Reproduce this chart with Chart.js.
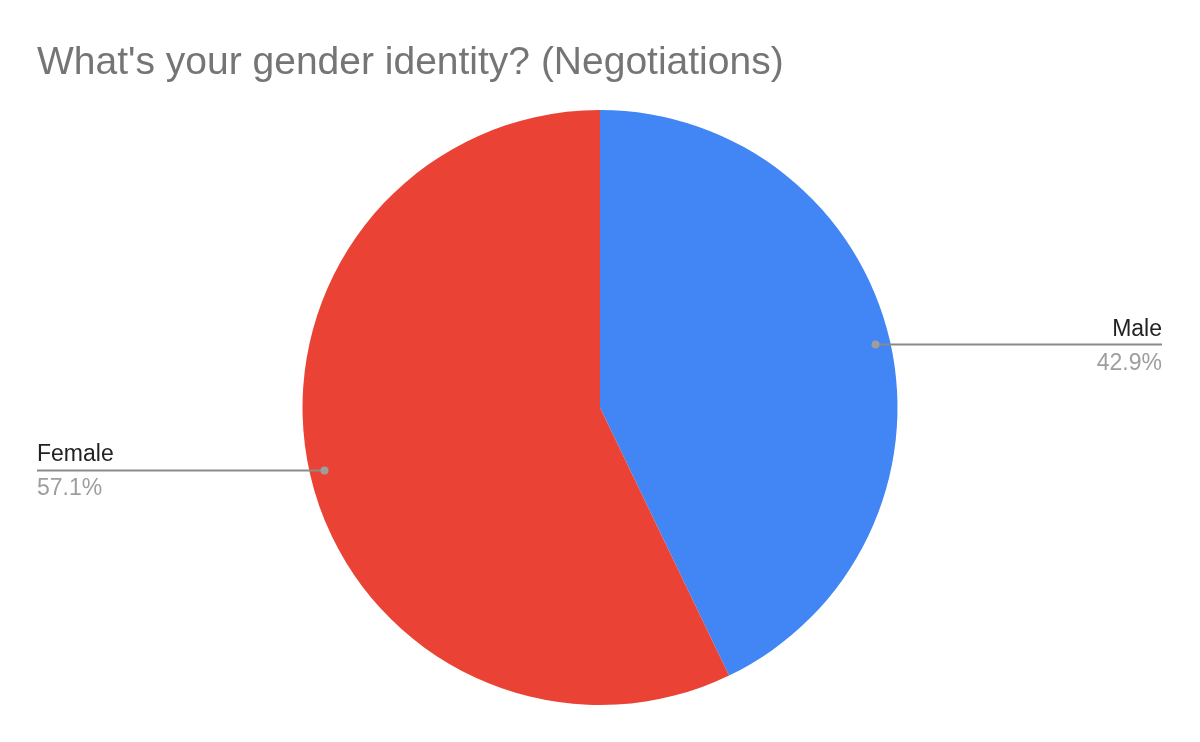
<!DOCTYPE html>
<html>
<head>
<meta charset="utf-8">
<script src="https://cdn.jsdelivr.net/npm/chart.js@4/dist/chart.umd.min.js"></script>
<style>
  html, body { margin: 0; padding: 0; background: #fff; }
  #chart { display: block; }
</style>
</head>
<body>
<canvas id="chart" width="1200" height="742"></canvas>
<script>
// datos del gráfico
var titleText = "What's your gender identity? (Negotiations)";
var categories = ["Male", "Female"];
var values = [3, 4];
var sliceColors = ["#4285f4", "#ea4335"];

var FONT = "'Liberation Sans', Arial, sans-serif";

// etiquetas con línea guía, estilo Google Sheets
var labelsPlugin = {
    id: "leaderLabels",
    afterDraw: function(chart) {
        var ctx = chart.ctx;
        var meta = chart.getDatasetMeta(0);
        var total = values.reduce(function(a, b) { return a + b; }, 0);

        // título
        ctx.save();
        ctx.font = "39px " + FONT;
        ctx.fillStyle = "#757575";
        ctx.textBaseline = "alphabetic";
        ctx.textAlign = "left";
        ctx.fillText(titleText, 37, 74);
        ctx.restore();

        meta.data.forEach(function(arc, i) {
            var p = arc.getProps(["x", "y", "startAngle", "endAngle", "outerRadius"], true);
            var mid = (p.startAngle + p.endAngle) / 2;
            var r = p.outerRadius * 0.95;
            var dx = p.x + Math.cos(mid) * r;
            var dy = p.y + Math.sin(mid) * r;
            var right = Math.cos(mid) >= 0;
            var endX = right ? 1162 : 37;
            var pct = (values[i] / total * 100).toFixed(1) + "%";

            ctx.save();
            ctx.strokeStyle = "#8a8a8a";
            ctx.lineWidth = 2;
            ctx.beginPath();
            ctx.moveTo(dx, dy);
            ctx.lineTo(endX, dy);
            ctx.stroke();

            ctx.fillStyle = "#9e9e9e";
            ctx.beginPath();
            ctx.arc(dx, dy, 4, 0, Math.PI * 2);
            ctx.fill();

            ctx.font = "23px " + FONT;
            ctx.textAlign = right ? "right" : "left";
            ctx.fillStyle = "#222222";
            ctx.fillText(categories[i], endX, dy - 9);
            ctx.fillStyle = "#9e9e9e";
            ctx.fillText(pct, endX, dy + 25);
            ctx.restore();
        });
    }
};

var ctx = document.getElementById("chart").getContext("2d");
var chart = new Chart(ctx, {
    type: "pie",
    data: {
        labels: categories,
        datasets: [{
            data: values,
            backgroundColor: sliceColors,
            borderWidth: 0
        }]
    },
    options: {
        responsive: false,
        animation: false,
        devicePixelRatio: 1,
        layout: { padding: { top: 110, bottom: 37, left: 0, right: 0 } },
        plugins: {
            legend: { display: false },
            title: { display: false },
            tooltip: { enabled: false }
        }
    },
    plugins: [labelsPlugin]
});
</script>
</body>
</html>
